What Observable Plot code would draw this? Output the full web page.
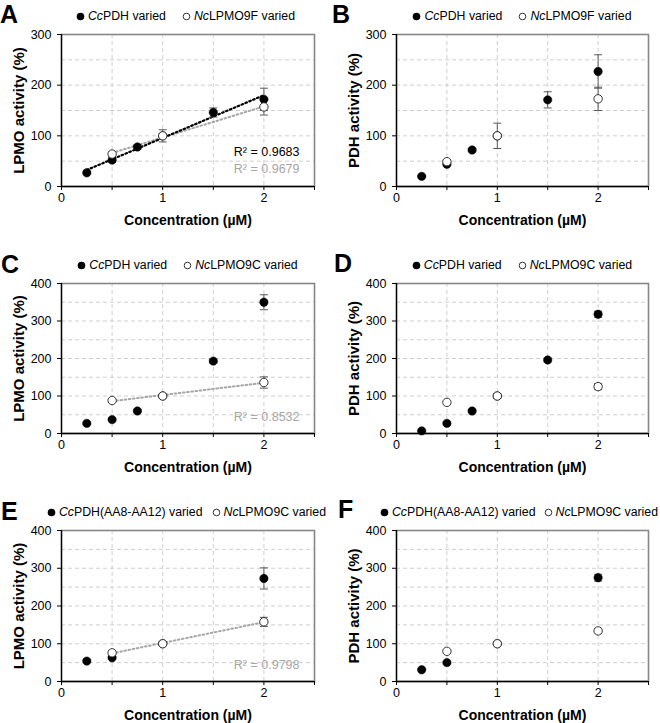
<!DOCTYPE html>
<html><head><meta charset="utf-8">
<script src="https://cdn.jsdelivr.net/npm/d3@7"></script>
<script src="https://cdn.jsdelivr.net/npm/@observablehq/plot@0.6"></script>
<style>
body{margin:0;background:#fff;}
#root{position:relative;width:660px;height:723px;overflow:hidden;font-family:"Liberation Sans",Arial,sans-serif;color:#000;}
.panel{position:absolute;width:330px;}
.panel svg{position:absolute;left:0;top:0;overflow:visible;}
.letter{position:absolute;font-weight:bold;font-size:25px;line-height:1;}
.legend{position:absolute;display:flex;justify-content:center;align-items:center;font-size:12.3px;line-height:16px;white-space:nowrap;}
.item{display:flex;align-items:center;gap:3px;}
</style></head><body><div id="root"></div>
<script>
// ---------------- DATA ----------------
const letters = ["A", "B", "C", "D", "E", "F"];
const yTitles = ["LPMO activity (%)", "PDH activity (%)", "LPMO activity (%)", "PDH activity (%)", "LPMO activity (%)", "PDH activity (%)"];
const xTitle = "Concentration (µM)";
const ccNames = ["PDH varied", "PDH varied", "PDH varied", "PDH varied", "PDH(AA8-AA12) varied", "PDH(AA8-AA12) varied"];
const ncNames = ["LPMO9F varied", "LPMO9F varied", "LPMO9C varied", "LPMO9C varied", "LPMO9C varied", "LPMO9C varied"];
const xTickLabels = [0, 1, 2];
const xTickMarks = [0, 0.5, 1, 1.5, 2, 2.5];
const xGridLines = [0.5, 1, 1.5, 2];
const yMaxes = [300, 300, 400, 400, 400, 400];
const yTicks300 = [0, 100, 200, 300];
const yTicks400 = [0, 100, 200, 300, 400];
const yGrid300 = [50, 100, 150, 200, 250];
const yGrid400 = [50, 100, 150, 200, 250, 300, 350];

// Panel A
const A_ccX = [0.25, 0.5, 0.75, 1, 1.5, 2];
const A_ccY = [27, 52, 78, 100, 146, 172];
const A_ccErr = [2, 4, 4, 0, 9, 22];
const A_ncX = [0.5, 1, 2];
const A_ncY = [64, 100, 157];
const A_ncErr = [4, 12, 16];
// Panel B
const B_ccX = [0.25, 0.5, 0.75, 1, 1.5, 2];
const B_ccY = [20, 44, 72, 100, 171, 227];
const B_ccErr = [2, 3, 3, 0, 16, 33];
const B_ncX = [0.5, 1, 2];
const B_ncY = [49, 100, 173];
const B_ncErr = [3, 25, 23];
// Panel C
const C_ccX = [0.25, 0.5, 0.75, 1, 1.5, 2];
const C_ccY = [27, 37, 60, 100, 193, 350];
const C_ccErr = [3, 3, 3, 0, 5, 20];
const C_ncX = [0.5, 1, 2];
const C_ncY = [88, 100, 136];
const C_ncErr = [4, 4, 15];
// Panel D
const D_ccX = [0.25, 0.5, 0.75, 1, 1.5, 2];
const D_ccY = [7, 27, 60, 100, 196, 318];
const D_ccErr = [2, 3, 3, 0, 5, 8];
const D_ncX = [0.5, 1, 2];
const D_ncY = [83, 100, 125];
const D_ncErr = [3, 6, 8];
// Panel E
const E_ccX = [0.25, 0.5, 1, 2];
const E_ccY = [54, 63, 100, 273];
const E_ccErr = [3, 4, 0, 28];
const E_ncX = [0.5, 1, 2];
const E_ncY = [76, 100, 158];
const E_ncErr = [3, 4, 12];
// Panel F
const F_ccX = [0.25, 0.5, 1, 2];
const F_ccY = [31, 50, 100, 275];
const F_ccErr = [2, 3, 0, 9];
const F_ncX = [0.5, 1, 2];
const F_ncY = [80, 100, 134];
const F_ncErr = [3, 3, 5];

// trend lines & R² labels
const ccTrend = [true, false, false, false, false, false];
const ncTrend = [true, false, true, false, true, false];
const ccR2 = ["R² = 0.9683", null, null, null, null, null];
const ncR2 = ["R² = 0.9679", null, "R² = 0.8532", null, "R² = 0.9798", null];

// ---------------- LAYOUT (style only) ----------------
const layout = [
  {left: 0,   top: 0,   h: 240, mL: 61, mR: 16, mT: 34, mB: 54, lt: 1.8,  lx: 0, legY: 16, gap: 16, legDx: -2},
  {left: 330, top: 0,   h: 240, mL: 66, mR: 12, mT: 34, mB: 54, lt: 1.8,  lx: 2, legY: 16, gap: 16, legDx: 0},
  {left: 0,   top: 240, h: 240, mL: 61, mR: 16, mT: 43, mB: 47, lt: 11.8, lx: 1, legY: 25, gap: 16, legDx: 0},
  {left: 330, top: 240, h: 240, mL: 66, mR: 12, mT: 43, mB: 47, lt: 10.8, lx: 4, legY: 25, gap: 16, legDx: 0},
  {left: 0,   top: 480, h: 243, mL: 61, mR: 16, mT: 50, mB: 42, lt: 18.8, lx: 1, legY: 32, gap: 9,  legDx: -1},
  {left: 330, top: 480, h: 243, mL: 66, mR: 12, mT: 50, mB: 42, lt: 16.8, lx: 8, legY: 32, gap: 8,  legDx: -3}
];

const series = [
  [A_ccX, A_ccY, A_ccErr, A_ncX, A_ncY, A_ncErr],
  [B_ccX, B_ccY, B_ccErr, B_ncX, B_ncY, B_ncErr],
  [C_ccX, C_ccY, C_ccErr, C_ncX, C_ncY, C_ncErr],
  [D_ccX, D_ccY, D_ccErr, D_ncX, D_ncY, D_ncErr],
  [E_ccX, E_ccY, E_ccErr, E_ncX, E_ncY, E_ncErr],
  [F_ccX, F_ccY, F_ccErr, F_ncX, F_ncY, F_ncErr]
];

const GRAY = "#a6a6a6";
const ERR = "#5a5a5a";
const capSymbol = {draw(ctx) { ctx.moveTo(-4, 0); ctx.lineTo(4, 0); }};
const toRows = (xs, ys, es) => xs.map((x, i) => ({x, y: ys[i], e: es[i]}));

const root = document.getElementById("root");

series.forEach((s, i) => {
  const L = layout[i];
  const cc = toRows(s[0], s[1], s[2]);
  const nc = toRows(s[3], s[4], s[5]);
  const is300 = yMaxes[i] === 300;
  const errs = cc.concat(nc).filter(d => d.e > 0);

  const marks = [
    Plot.gridY({ticks: is300 ? yGrid300 : yGrid400, stroke: "#cfcfcf", strokeOpacity: 1, strokeDasharray: "4,3"}),
    Plot.gridX({ticks: xGridLines, stroke: "#cfcfcf", strokeOpacity: 1, strokeDasharray: "4,3"}),
    Plot.frame({stroke: "#878787", strokeWidth: 1.6})
  ];
  if (ncTrend[i]) marks.push(Plot.linearRegressionY(nc, {x: "x", y: "y", ci: 0, stroke: GRAY, strokeWidth: 2, strokeDasharray: "1.6,2.6"}));
  if (ccTrend[i]) marks.push(Plot.linearRegressionY(cc, {x: "x", y: "y", ci: 0, stroke: "#000", strokeWidth: 2.2, strokeDasharray: "1.6,2.6"}));
  marks.push(
    Plot.ruleX(errs, {x: "x", y1: d => d.y - d.e, y2: d => d.y + d.e, stroke: ERR, strokeWidth: 1}),
    Plot.dot(errs, {x: "x", y: d => d.y + d.e, symbol: capSymbol, stroke: ERR, fill: "none", strokeWidth: 1}),
    Plot.dot(errs, {x: "x", y: d => d.y - d.e, symbol: capSymbol, stroke: ERR, fill: "none", strokeWidth: 1}),
    Plot.dot(cc, {x: "x", y: "y", r: 4.2, fill: "#000", stroke: "#000", strokeWidth: 0.5}),
    Plot.dot(nc, {x: "x", y: "y", r: 4.2, fill: "#fff", stroke: "#333", strokeWidth: 1}),
    Plot.ruleY([0], {stroke: "#000", strokeWidth: 1.3}),
    Plot.ruleX([0], {stroke: "#000", strokeWidth: 1.3}),
    Plot.axisX({ticks: xTickMarks, tickFormat: d => xTickLabels.includes(d) ? String(d) : "", tickSize: 4, tickPadding: 3, fontSize: 12.5, label: null}),
    Plot.axisY({ticks: is300 ? yTicks300 : yTicks400, tickSize: 4, tickPadding: 6, fontSize: 12.5, label: null}),
    Plot.text([xTitle], {frameAnchor: "bottom", dy: 34, lineAnchor: "middle", textAnchor: "middle", fontWeight: "bold", fontSize: 14}),
    Plot.text([yTitles[i]], {frameAnchor: "left", dx: -42, rotate: -90, textAnchor: "middle", lineAnchor: "middle", fontWeight: "bold", fontSize: 15})
  );
  const r2 = [];
  if (ccR2[i]) r2.push({t: ccR2[i], c: "#000", dy: -35});
  if (ncR2[i]) r2.push({t: ncR2[i], c: GRAY, dy: ccR2[i] ? -18 : -17});
  r2.forEach(r => marks.push(Plot.text([r.t], {frameAnchor: "bottom-right", dx: -15, dy: r.dy, textAnchor: "end", lineAnchor: "middle", fill: r.c, fontSize: 12.5})));

  const svg = Plot.plot({
    width: 330, height: L.h,
    marginLeft: L.mL, marginRight: L.mR, marginTop: L.mT, marginBottom: L.mB,
    x: {domain: [0, 2.5]},
    y: {domain: [0, yMaxes[i]]},
    style: {fontFamily: "'Liberation Sans', Arial, sans-serif", fontSize: "12.5px", color: "#000", background: "transparent", overflow: "visible"},
    marks
  });

  const panel = document.createElement("div");
  panel.className = "panel";
  panel.style.left = L.left + "px";
  panel.style.top = L.top + "px";
  panel.style.height = L.h + "px";
  panel.appendChild(svg);

  const letter = document.createElement("div");
  letter.className = "letter";
  letter.style.left = L.lx + "px";
  letter.style.top = L.lt + "px";
  letter.textContent = letters[i];
  panel.appendChild(letter);

  const legend = document.createElement("div");
  legend.className = "legend";
  legend.style.gap = L.gap + "px";
  legend.style.left = (L.mL - 20 + L.legDx) + "px";
  legend.style.width = (330 - L.mL - L.mR + 40) + "px";
  legend.style.top = (L.legY - 8) + "px";
  legend.innerHTML =
    `<span class="item"><svg width="9" height="9" style="position:static"><circle cx="4.5" cy="4.5" r="3.8" fill="#000"/></svg><span><i>Cc</i>${ccNames[i]}</span></span>` +
    `<span class="item"><svg width="9" height="9" style="position:static"><circle cx="4.5" cy="4.5" r="3.3" fill="#fff" stroke="#333" stroke-width="1"/></svg><span><i>Nc</i>${ncNames[i]}</span></span>`;
  panel.appendChild(legend);

  root.appendChild(panel);
});
</script>
</body></html>
